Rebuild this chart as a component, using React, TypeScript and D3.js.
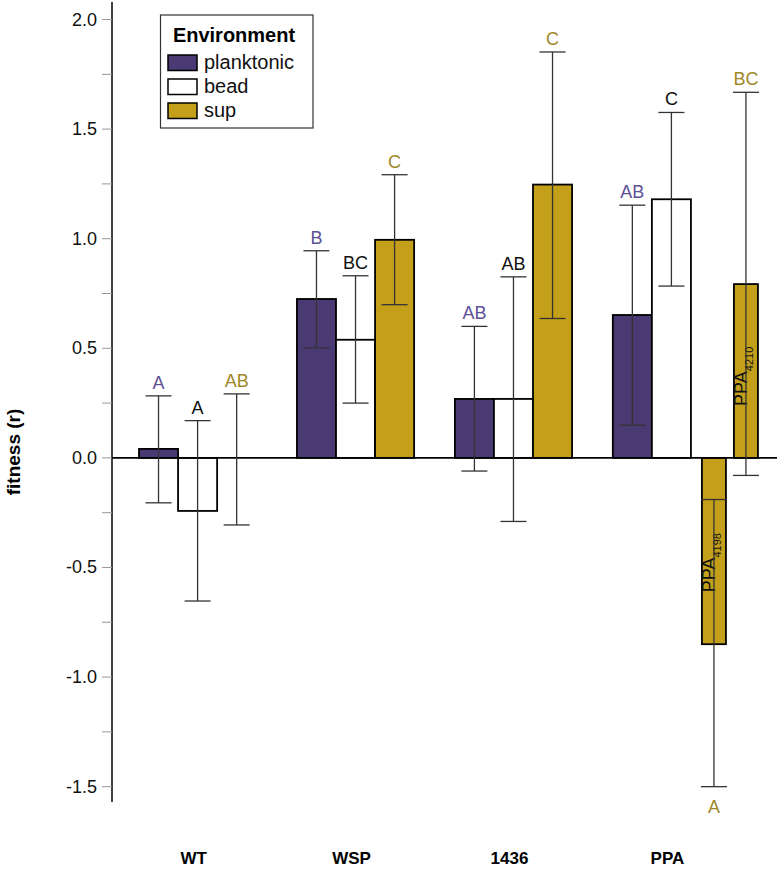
import React from 'react';
import * as d3 from 'd3';

const groups = ['WT', 'WSP', '1436', 'PPA'];
const envs = ['planktonic', 'bead', 'sup'];

const planktonicMean = [0.041, 0.725, 0.269, 0.652];
const planktonicLo = [-0.205, 0.502, -0.06, 0.149];
const planktonicHi = [0.283, 0.945, 0.6, 1.153];
const planktonicLetters = ['A', 'B', 'AB', 'AB'];

const beadMean = [-0.242, 0.539, 0.269, 1.18];
const beadLo = [-0.653, 0.25, -0.29, 0.784];
const beadHi = [0.17, 0.831, 0.826, 1.576];
const beadLetters = ['A', 'BC', 'AB', 'C'];

// sup for WT, WSP, 1436
const supMean = [0, 0.995, 1.247];
const supLo = [-0.306, 0.699, 0.636];
const supHi = [0.292, 1.292, 1.852];
const supLetters = ['AB', 'C', 'C'];

// PPA sup split into two strains
const ppaStrains = ['4198', '4210'];
const ppaSupMean = [-0.85, 0.793];
const ppaSupLo = [-1.5, -0.08];
const ppaSupHi = [-0.19, 1.668];
const ppaSupLetters = ['A', 'BC'];

const yTicksMajor = [-1.5, -1.0, -0.5, 0.0, 0.5, 1.0, 1.5, 2.0];
const yTicksMinor = [-1.25, -0.75, -0.25, 0.25, 0.75, 1.25, 1.75];

const fills: Record<string, string> = { planktonic: '#4a3a73', bead: '#ffffff', sup: '#c4a01a' };
const letterColors: Record<string, string> = { planktonic: '#5e5096', bead: '#111111', sup: '#a08828' };

const FONT = '"Liberation Sans", Arial, Helvetica, sans-serif';

export default function App() {
  const W = 777, H = 891;
  const axisX = 112;
  const y = d3.scaleLinear().domain([-1.57, 2.08]).range([802, 2]);
  const xg = d3.scaleBand<string>().domain(groups).range([139, 730]).paddingInner(0.258).paddingOuter(0);
  const xe = d3.scaleBand<string>().domain(envs).range([0, xg.bandwidth()]).padding(0);
  const bw = xe.bandwidth();
  const capW = 26;

  type Bar = { key: string; env: string; x: number; w: number; mean: number; lo: number; hi: number; letter: string; below?: boolean; strain?: string };
  const bars: Bar[] = [];
  groups.forEach((g, i) => {
    const gx = xg(g)!;
    bars.push({ key: g + 'p', env: 'planktonic', x: gx + xe('planktonic')!, w: bw, mean: planktonicMean[i], lo: planktonicLo[i], hi: planktonicHi[i], letter: planktonicLetters[i] });
    bars.push({ key: g + 'b', env: 'bead', x: gx + xe('bead')!, w: bw, mean: beadMean[i], lo: beadLo[i], hi: beadHi[i], letter: beadLetters[i] });
    if (g !== 'PPA') {
      bars.push({ key: g + 's', env: 'sup', x: gx + xe('sup')!, w: bw, mean: supMean[i], lo: supLo[i], hi: supHi[i], letter: supLetters[i] });
    } else {
      const s0 = gx + xe('sup')! + 11;
      const xs = d3.scaleBand<string>().domain(ppaStrains).range([s0, s0 + 56]).paddingInner(0.25).paddingOuter(0);
      ppaStrains.forEach((s, j) => {
        bars.push({ key: g + 's' + s, env: 'sup', x: xs(s)!, w: xs.bandwidth(), mean: ppaSupMean[j], lo: ppaSupLo[j], hi: ppaSupHi[j], letter: ppaSupLetters[j], below: ppaSupMean[j] < 0, strain: s });
      });
    }
  });

  const y0 = y(0);

  return (
    <svg width={W} height={H} style={{ position: 'absolute', left: 0, top: 0, background: '#fff' }} fontFamily={FONT}>
      {/* bars */}
      {bars.map(b => (
        b.mean !== 0 ? (
          <rect key={b.key} x={b.x} y={Math.min(y(b.mean), y0)} width={b.w} height={Math.abs(y(b.mean) - y0)}
            fill={fills[b.env]} stroke="#000" strokeWidth={1.8} />
        ) : null
      ))}
      {/* zero line */}
      <line x1={axisX} x2={W} y1={y0} y2={y0} stroke="#000" strokeWidth={1.6} />
      {/* PPA strain labels */}
      {bars.filter(b => b.strain).map(b => {
        const cx = b.x + b.w / 2 + 1;
        const lowEnd = Math.max(y(b.mean), y0);
        return (
          <text key={b.key + 't'} transform={`translate(${cx},${lowEnd - 52}) rotate(-90)`} fontSize={18} fill="#111">
            PPA<tspan fontSize={11} dy={6}>{b.strain}</tspan>
          </text>
        );
      })}
      {/* error bars */}
      {bars.map(b => {
        const cx = b.x + b.w / 2;
        return (
          <g key={b.key + 'e'} stroke="#333" strokeWidth={1.3}>
            <line x1={cx} x2={cx} y1={y(b.hi)} y2={y(b.lo)} />
            <line x1={cx - capW / 2} x2={cx + capW / 2} y1={y(b.hi)} y2={y(b.hi)} />
            <line x1={cx - capW / 2} x2={cx + capW / 2} y1={y(b.lo)} y2={y(b.lo)} />
          </g>
        );
      })}
      {/* letters */}
      {bars.map(b => {
        const cx = b.x + b.w / 2;
        const ty = b.below ? y(b.lo) + 26 : y(b.hi) - 7;
        return (
          <text key={b.key + 'l'} x={cx} y={ty} textAnchor="middle" fontSize={18} fill={letterColors[b.env]}>{b.letter}</text>
        );
      })}
      {/* y axis */}
      <line x1={axisX} x2={axisX} y1={2} y2={802} stroke="#000" strokeWidth={1.5} />
      {yTicksMinor.map(t => (
        <line key={'m' + t} x1={axisX - 10} x2={axisX} y1={y(t)} y2={y(t)} stroke="#999" strokeWidth={1} />
      ))}
      {yTicksMajor.map(t => (
        <g key={'t' + t}>
          <line x1={axisX - 10} x2={axisX} y1={y(t)} y2={y(t)} stroke="#999" strokeWidth={1} />
          <text x={97} y={y(t) + 6} textAnchor="end" fontSize={18} fill="#111">{t.toFixed(1)}</text>
        </g>
      ))}
      <text transform={`translate(20,${452}) rotate(-90)`} textAnchor="middle" fontSize={19} fontWeight="bold" fill="#000">fitness (r)</text>
      {/* x labels */}
      {groups.map(g => (
        <text key={'x' + g} x={xg(g)! + xg.bandwidth() / 2 - 4} y={864} textAnchor="middle" fontSize={17} fontWeight="bold" fill="#000">{g}</text>
      ))}
      {/* legend */}
      <g>
        <rect x={160.5} y={15} width={152.5} height={113} fill="#fff" stroke="#333" strokeWidth={1.2} />
        <text x={234} y={42} textAnchor="middle" fontSize={20} fontWeight="bold" fill="#000">Environment</text>
        {envs.map((e, i) => (
          <g key={'lg' + e}>
            <rect x={168} y={55 + i * 24} width={29} height={15.5} fill={fills[e]} stroke="#000" strokeWidth={1.5} />
            <text x={204} y={69 + i * 24} fontSize={20} fill="#111">{e}</text>
          </g>
        ))}
      </g>
    </svg>
  );
}
